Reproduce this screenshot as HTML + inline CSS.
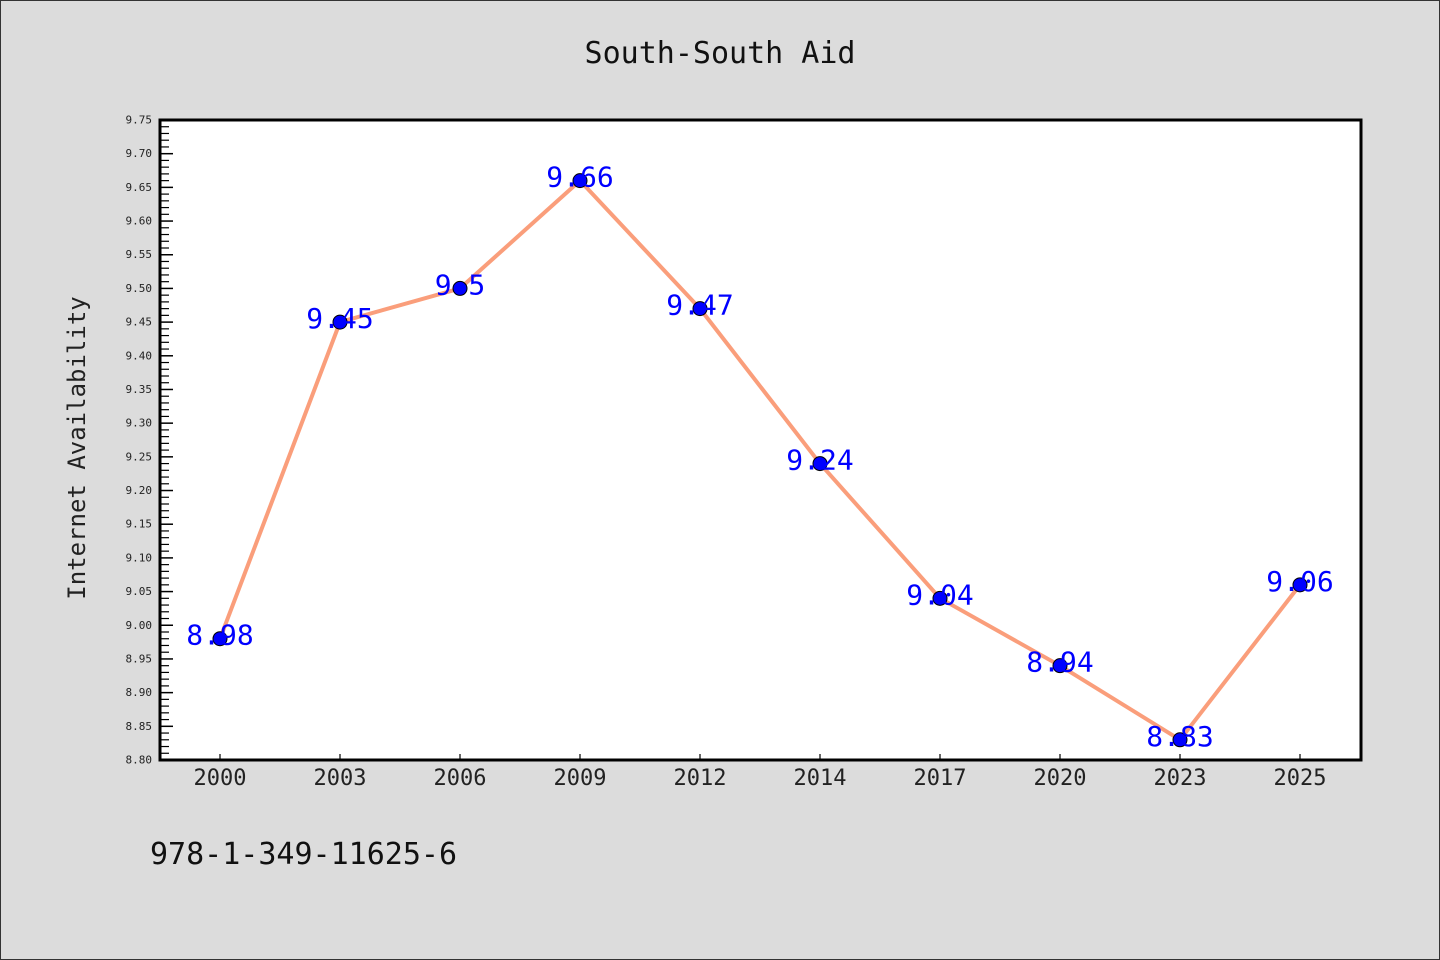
<!DOCTYPE html>
<html><head><meta charset="utf-8"><style>
html,body{margin:0;padding:0;background:#dcdcdc;}
svg{display:block;}
text{font-family:"WenQuanYi Zen Hei","DejaVu Sans Mono",monospace;}
</style></head><body>
<svg id="chart" width="1440" height="960" xmlns="http://www.w3.org/2000/svg">
<rect x="0.5" y="0.5" width="1439" height="959" fill="#dcdcdc" stroke="#333"/>
<text x="720" y="63" font-size="30" text-anchor="middle" fill="#111">South-South Aid</text>
<rect x="160" y="120" width="1201" height="640" fill="#fff"/>
<g id="yticks"></g><g id="xticks"></g><g id="series"></g>
<rect x="160" y="120" width="1201" height="640" fill="none" stroke="#000" stroke-width="3"/>
<text transform="translate(85,448) rotate(-90)" font-size="24" text-anchor="middle" fill="#222">Internet Availability</text>
<text x="150" y="864" font-size="30" fill="#111">978-1-349-11625-6</text>
</svg>
<script>
const categories=["2000","2003","2006","2009","2012","2014","2017","2020","2023","2025"];
const values=[8.98,9.45,9.5,9.66,9.47,9.24,9.04,8.94,8.83,9.06];
const valueLabels=["8.98","9.45","9.5","9.66","9.47","9.24","9.04","8.94","8.83","9.06"];
const yTickLabels=["8.80","8.85","8.90","8.95","9.00","9.05","9.10","9.15","9.20","9.25","9.30","9.35","9.40","9.45","9.50","9.55","9.60","9.65","9.70","9.75"];
const yMin=8.80,yMax=9.75,plotTop=120,plotBottom=760,plotLeft=160;
const NS="http://www.w3.org/2000/svg";
function yScale(v){return plotBottom-(v-yMin)/(yMax-yMin)*(plotBottom-plotTop);}
function xScale(i){return 220+i*120;}
function mk(t,a,p){const e=document.createElementNS(NS,t);for(const k in a)e.setAttribute(k,a[k]);p.appendChild(e);return e;}
const yt=document.getElementById('yticks');
yTickLabels.forEach((lab,i)=>{
  const v=parseFloat(lab),yy=yScale(v);
  const ln=mk('line',{x1:plotLeft,x2:plotLeft+13,y1:yy,y2:yy,stroke:'#000','stroke-width':1.5},yt);
  
  
  const t=mk('text',{x:152,y:yy+3.5,'font-size':11,'text-anchor':'end',fill:'#222'},yt);
  t.textContent=lab;
  
  
  if(i<yTickLabels.length-1){for(let m=1;m<5;m++){const ym=yScale(v+m*0.01);
    const mn=mk('line',{x1:plotLeft,x2:plotLeft+9,y1:ym,y2:ym,stroke:'#000','stroke-width':1.2},yt);
    
    }}
});
const xt=document.getElementById('xticks');
categories.forEach((c,i)=>{
  const tk=mk('line',{x1:xScale(i),x2:xScale(i),y1:plotBottom,y2:plotBottom-6,stroke:'#000','stroke-width':1.2},xt);
  
  
  const t=mk('text',{x:xScale(i),y:785,'font-size':22,'text-anchor':'middle',fill:'#222'},xt);
  t.textContent=c;
  
  
});
const sg=document.getElementById('series');
const pl=mk('polyline',{points:values.map((v,i)=>xScale(i)+','+yScale(v)).join(' '),fill:'none',stroke:'#fa9e7b','stroke-width':4,'stroke-linejoin':'round'},sg);


values.forEach((v,i)=>{
  const c=mk('circle',{cx:xScale(i),cy:yScale(v),r:7,fill:'#0000ff',stroke:'#000','stroke-width':1},sg);
  
  
  const t=mk('text',{x:xScale(i),y:yScale(v)+6,'font-size':28,'text-anchor':'middle',fill:'#0000ff'},sg);
  t.textContent=valueLabels[i];
  
  
});
</script>
</body></html>
